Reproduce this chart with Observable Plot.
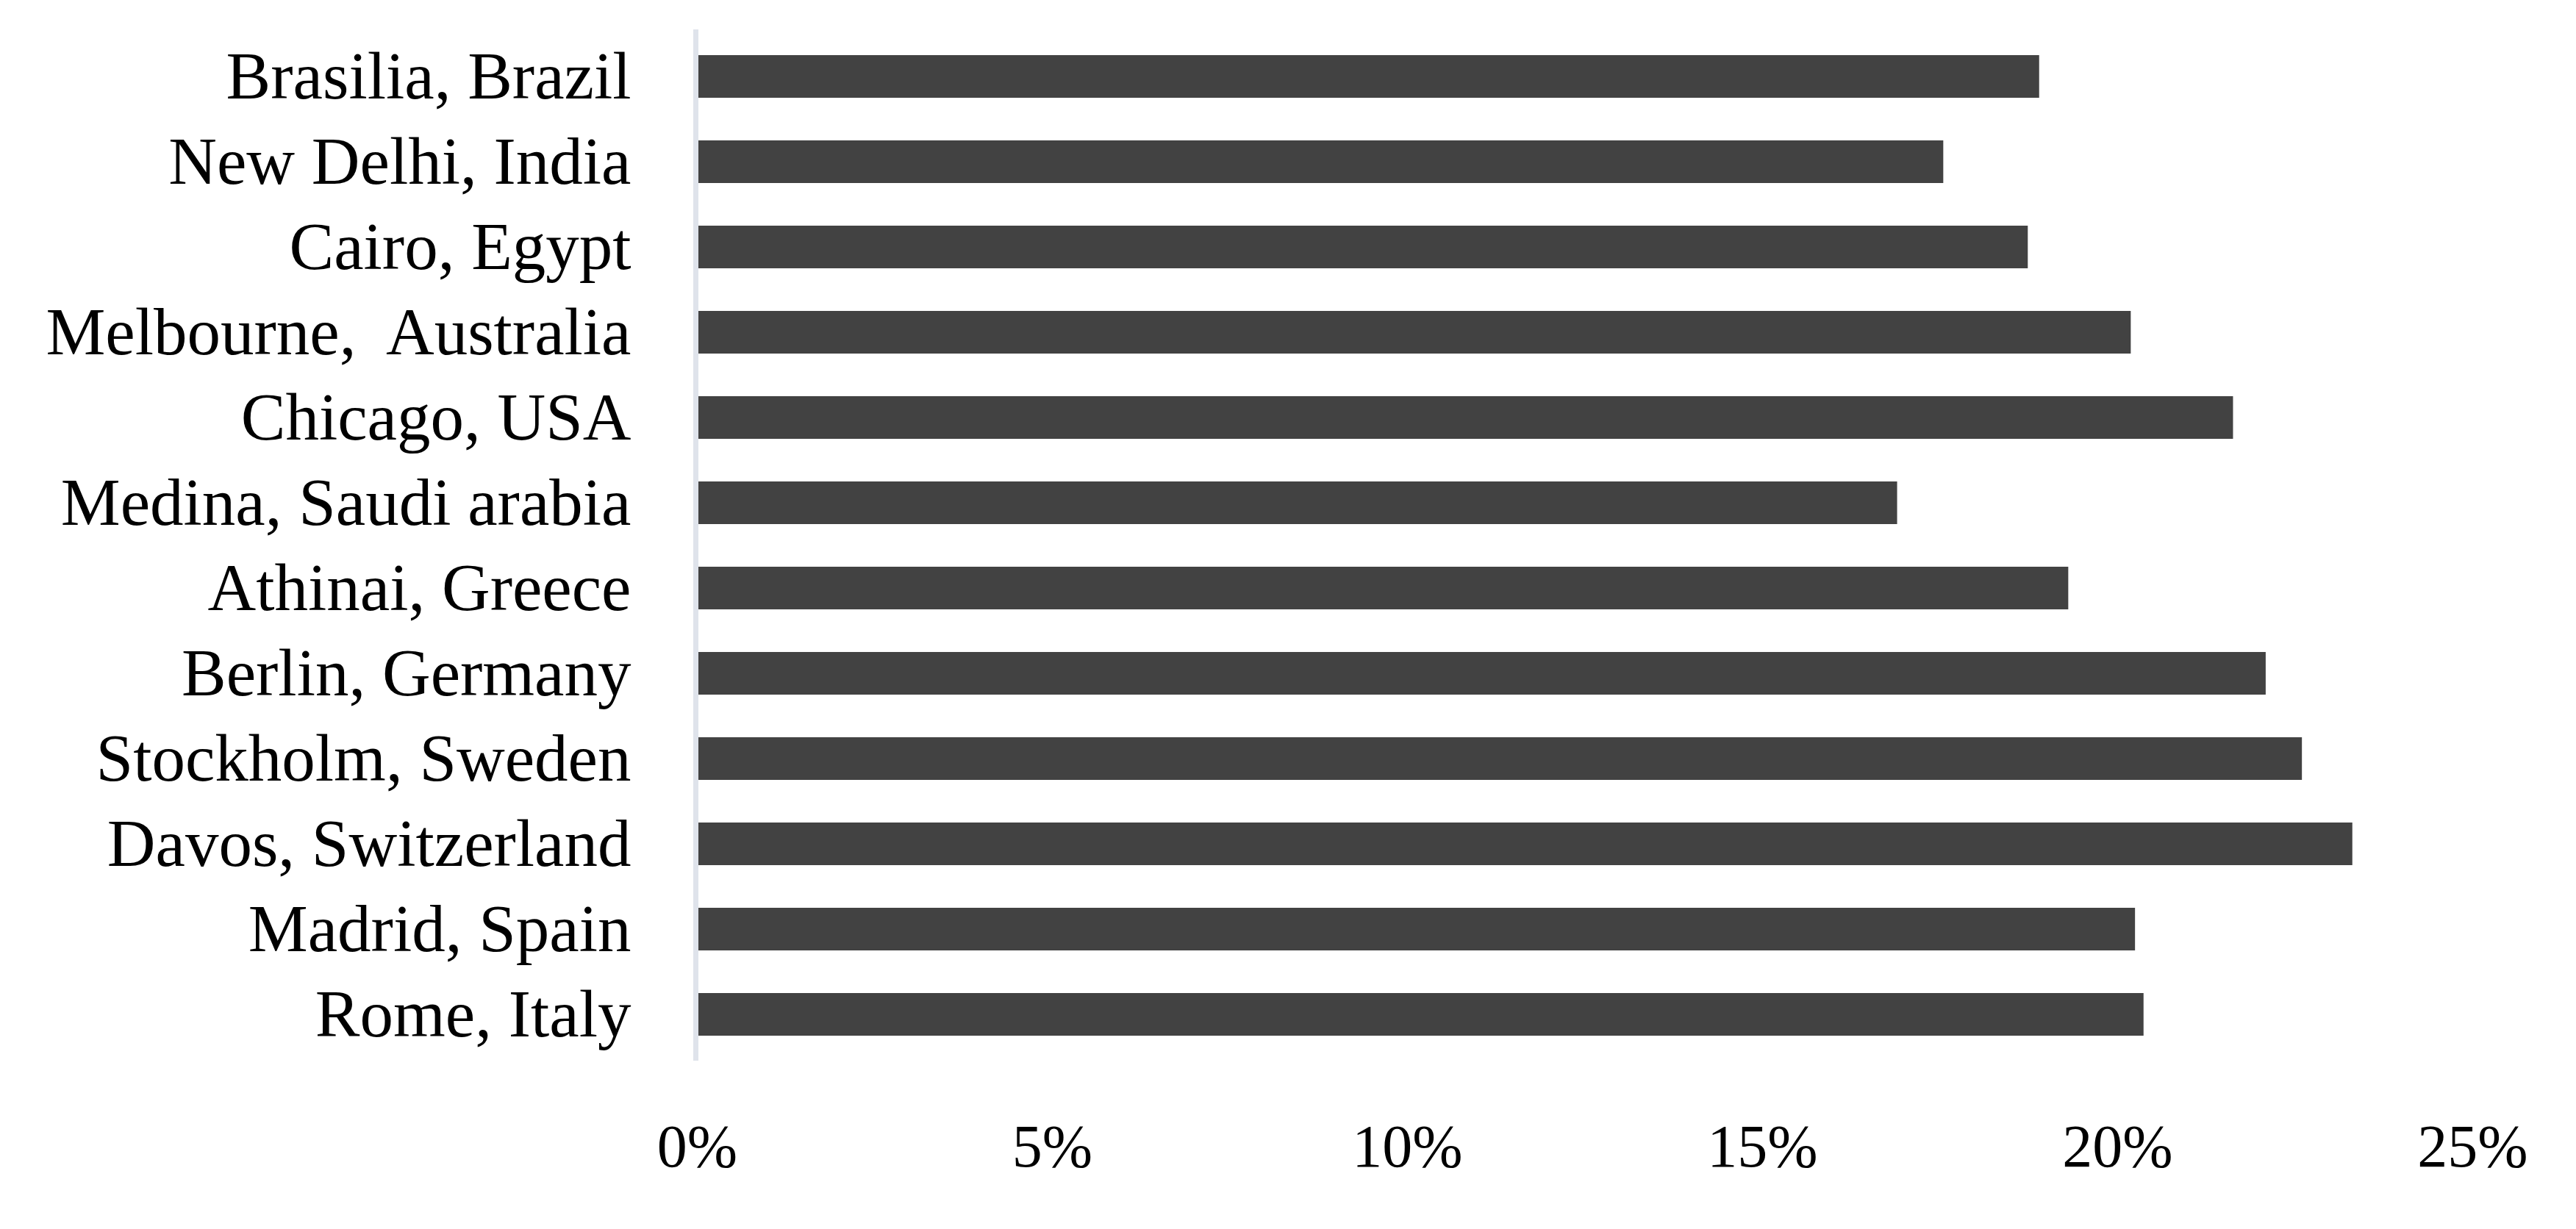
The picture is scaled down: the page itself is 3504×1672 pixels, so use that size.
<!DOCTYPE html>
<html>
<head>
<meta charset="utf-8">
<script src="https://cdn.jsdelivr.net/npm/d3@7"></script>
<script src="https://cdn.jsdelivr.net/npm/@observablehq/plot@0.6"></script>
<style>
  html, body { margin: 0; padding: 0; background: #fff; }
  #chart { width: 3504px; height: 1672px; }
  #chart svg text { white-space: pre; }
</style>
</head>
<body>
<div id="chart"></div>
<script>
const cities = [
  "Brasilia, Brazil",
  "New Delhi, India",
  "Cairo, Egypt",
  "Melbourne,  Australia",
  "Chicago, USA",
  "Medina, Saudi arabia",
  "Athinai, Greece",
  "Berlin, Germany",
  "Stockholm, Sweden",
  "Davos, Switzerland",
  "Madrid, Spain",
  "Rome, Italy"
];
const shares = [0.189, 0.1755, 0.1874, 0.2019, 0.2163, 0.169, 0.1931, 0.2209, 0.226, 0.2331, 0.2025, 0.2037];
const xTicks = [0, 0.05, 0.10, 0.15, 0.20, 0.25];

const data = cities.map((c, i) => ({city: c, value: shares[i]}));

const chart = Plot.plot({
  width: 3504,
  height: 1672,
  marginLeft: 948,
  marginRight: 141,
  marginTop: 40,
  marginBottom: 229,
  style: {fontFamily: "'Liberation Serif', serif", fontSize: "84px", color: "#000", background: "#fff"},
  x: {domain: [0, 0.25], ticks: xTicks, tickFormat: d3.format(".0%"), label: null},
  y: {domain: cities, paddingInner: 0.5, paddingOuter: 0.25, label: null},
  marks: [
    Plot.barX(data, {x: "value", y: "city", fill: "#424242"}),
    Plot.ruleX([0], {stroke: "#dfe3eb", strokeWidth: 7, dx: -2}),
    Plot.axisX({ticks: xTicks, tickFormat: d3.format(".0%"), tickSize: 0, tickPadding: 85, fontSize: 82, label: null}),
    Plot.axisY({tickSize: 0, tickPadding: 90, fontSize: 91, label: null})
  ]
});
document.getElementById("chart").appendChild(chart);
</script>
</body>
</html>
